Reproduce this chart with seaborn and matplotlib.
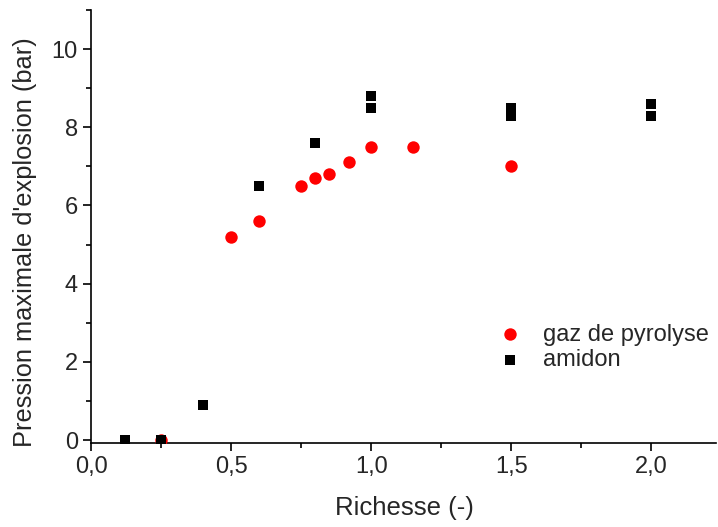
import matplotlib
matplotlib.use("Agg")
import matplotlib.pyplot as plt
import seaborn as sns
import pandas as pd
from matplotlib.ticker import MultipleLocator, FuncFormatter

gaz_x = [0.25, 0.5, 0.6, 0.75, 0.8, 0.85, 0.92, 1.0, 1.15, 1.5]
gaz_y = [0.0, 5.2, 5.6, 6.5, 6.7, 6.8, 7.1, 7.5, 7.5, 7.0]
amidon_x = [0.12, 0.25, 0.4, 0.6, 0.8, 1.0, 1.0, 1.5, 1.5, 2.0, 2.0]
amidon_y = [0.0, 0.0, 0.9, 6.5, 7.6, 8.8, 8.5, 8.5, 8.3, 8.6, 8.3]
series_names = ["gaz de pyrolyse", "amidon"]

sns.set_style("ticks")
plt.rcParams['font.family'] = ['Liberation Sans', 'DejaVu Sans']

df = pd.DataFrame({
    "x": gaz_x + amidon_x,
    "y": gaz_y + amidon_y,
    "serie": [series_names[0]] * len(gaz_x) + [series_names[1]] * len(amidon_x),
})

fig = plt.figure(figsize=(7.18, 5.27), dpi=100)
ax = fig.add_axes([0.127, 0.159, 0.870, 0.822])

sns.scatterplot(data=df[df.serie == series_names[0]], x="x", y="y", color="#ff0000",
                marker="o", s=80, linewidth=0, ax=ax, label=series_names[0], zorder=3)
sns.scatterplot(data=df[df.serie == series_names[1]], x="x", y="y", color="black",
                marker="s", s=62, linewidth=0, ax=ax, label=series_names[1], zorder=4)

ax.set_xlim(0, 2.23)
ax.set_ylim(-0.08, 11.0)
ax.xaxis.set_major_locator(MultipleLocator(0.5))
ax.xaxis.set_minor_locator(MultipleLocator(0.25))
ax.yaxis.set_major_locator(MultipleLocator(2))
ax.yaxis.set_minor_locator(MultipleLocator(1))
ax.xaxis.set_major_formatter(FuncFormatter(lambda v, p: f"{v:.1f}".replace(".", ",")))
ax.yaxis.set_major_formatter(FuncFormatter(lambda v, p: f"{v:.0f}"))
ax.tick_params(which="major", length=6, width=1.2, labelsize=17, direction="out", color="black")
ax.tick_params(which="minor", length=3.5, width=1.2, direction="out", color="black")
for s in ["top", "right"]:
    ax.spines[s].set_visible(False)
for s in ["left", "bottom"]:
    ax.spines[s].set_linewidth(1.2)
    ax.spines[s].set_color("black")

ax.set_xlabel("Richesse (-)", fontsize=18.5)
ax.set_ylabel("Pression maximale d'explosion (bar)", fontsize=18.3)
ax.xaxis.set_label_coords(0.502, -0.122)
ax.yaxis.set_label_coords(-0.086, 0.464)

ax.legend(loc="upper left", bbox_to_anchor=(0.681, 0.404), bbox_transform=fig.transFigure,
          frameon=False, fontsize=17, handlelength=1.0, handletextpad=0.9,
          labelspacing=0.15, borderpad=0.4, borderaxespad=0)

fig.savefig("out.png", dpi=100)
